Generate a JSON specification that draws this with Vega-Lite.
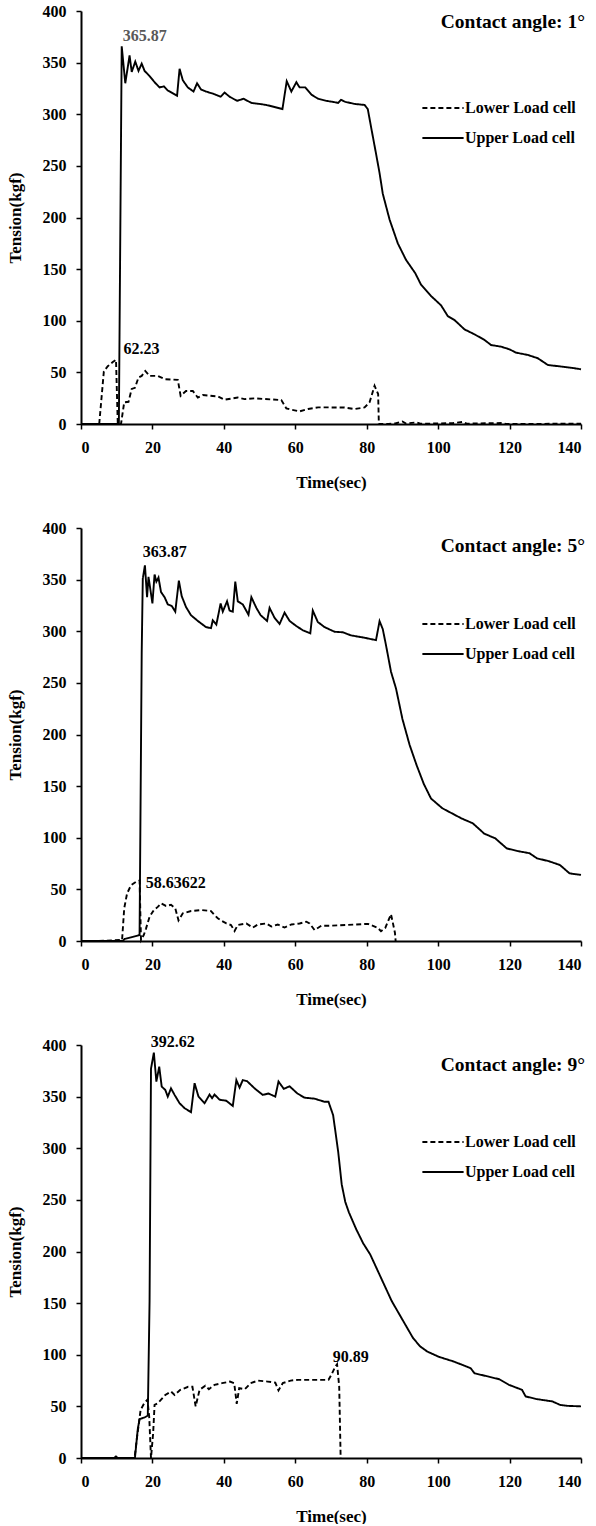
{
  "$schema": "https://vega.github.io/schema/vega-lite/v6.json",
  "background": "white",
  "padding": {"left": 6, "top": 3, "right": 0, "bottom": 0},
  "config": {
    "view": {"stroke": null},
    "font": "Liberation Serif",
    "axis": {"grid": false, "ticks": true, "domainColor": "black", "domainWidth": 2, "tickColor": "black", "tickWidth": 1.5, "tickSize": 5,
      "labelFont": "Liberation Serif", "labelFontSize": 16, "labelFontWeight": "bold", "labelColor": "black", "labelPadding": 10,
      "titleFont": "Liberation Serif", "titleFontSize": 17, "titleFontWeight": "bold", "titleColor": "black"},
    "legend": {"orient": "none", "title": null, "symbolType": "stroke", "symbolSize": 1700, "symbolStrokeWidth": 1.8, "symbolStrokeColor": "black",
      "labelFont": "Liberation Serif", "labelFontSize": 16, "labelFontWeight": "bold", "labelColor": "black", "labelOffset": 0, "rowPadding": -10, "padding": 0, "symbolOffset": 0}
  },
  "datasets": {
    "a1": [
      {"t":0,"v":0,"s":"Upper Load cell"},{"t":10.6,"v":0,"s":"Upper Load cell"},{"t":11.4,"v":365.87,"s":"Upper Load cell"},{"t":12.4,"v":330,"s":"Upper Load cell"},{"t":13.6,"v":357,"s":"Upper Load cell"},{"t":14.2,"v":341,"s":"Upper Load cell"},{"t":15.2,"v":351,"s":"Upper Load cell"},{"t":16.1,"v":342,"s":"Upper Load cell"},{"t":17.0,"v":349,"s":"Upper Load cell"},{"t":17.8,"v":342,"s":"Upper Load cell"},{"t":19.2,"v":337,"s":"Upper Load cell"},{"t":20.6,"v":331,"s":"Upper Load cell"},{"t":22.0,"v":326,"s":"Upper Load cell"},{"t":23.2,"v":327,"s":"Upper Load cell"},{"t":24.3,"v":323,"s":"Upper Load cell"},{"t":26.9,"v":318,"s":"Upper Load cell"},{"t":27.6,"v":344,"s":"Upper Load cell"},{"t":28.5,"v":333,"s":"Upper Load cell"},{"t":29.9,"v":326,"s":"Upper Load cell"},{"t":31.5,"v":322,"s":"Upper Load cell"},{"t":32.5,"v":330,"s":"Upper Load cell"},{"t":33.6,"v":324,"s":"Upper Load cell"},{"t":35.0,"v":322,"s":"Upper Load cell"},{"t":36.9,"v":320,"s":"Upper Load cell"},{"t":39.1,"v":317,"s":"Upper Load cell"},{"t":40.2,"v":321,"s":"Upper Load cell"},{"t":41.6,"v":317,"s":"Upper Load cell"},{"t":43.7,"v":313,"s":"Upper Load cell"},{"t":45.5,"v":315,"s":"Upper Load cell"},{"t":47.7,"v":311,"s":"Upper Load cell"},{"t":50,"v":310,"s":"Upper Load cell"},{"t":51.9,"v":309,"s":"Upper Load cell"},{"t":54.2,"v":307,"s":"Upper Load cell"},{"t":56.4,"v":305,"s":"Upper Load cell"},{"t":57.6,"v":332,"s":"Upper Load cell"},{"t":58.9,"v":322,"s":"Upper Load cell"},{"t":60.3,"v":331,"s":"Upper Load cell"},{"t":61.2,"v":326,"s":"Upper Load cell"},{"t":62.8,"v":326,"s":"Upper Load cell"},{"t":64.5,"v":319,"s":"Upper Load cell"},{"t":66.4,"v":315,"s":"Upper Load cell"},{"t":68.7,"v":313,"s":"Upper Load cell"},{"t":70.5,"v":312,"s":"Upper Load cell"},{"t":72,"v":311,"s":"Upper Load cell"},{"t":72.8,"v":314,"s":"Upper Load cell"},{"t":74,"v":312,"s":"Upper Load cell"},{"t":76.6,"v":310,"s":"Upper Load cell"},{"t":79.4,"v":309,"s":"Upper Load cell"},{"t":80.3,"v":305,"s":"Upper Load cell"},{"t":81.2,"v":288,"s":"Upper Load cell"},{"t":82.6,"v":262,"s":"Upper Load cell"},{"t":83.6,"v":243,"s":"Upper Load cell"},{"t":84.5,"v":223,"s":"Upper Load cell"},{"t":86.4,"v":198,"s":"Upper Load cell"},{"t":88.7,"v":175,"s":"Upper Load cell"},{"t":91.0,"v":159,"s":"Upper Load cell"},{"t":93.6,"v":146,"s":"Upper Load cell"},{"t":95.2,"v":135,"s":"Upper Load cell"},{"t":98.0,"v":124,"s":"Upper Load cell"},{"t":100.8,"v":115,"s":"Upper Load cell"},{"t":102.7,"v":104.5,"s":"Upper Load cell"},{"t":104.6,"v":100.6,"s":"Upper Load cell"},{"t":107.4,"v":91.6,"s":"Upper Load cell"},{"t":110.2,"v":86.8,"s":"Upper Load cell"},{"t":113.0,"v":81.4,"s":"Upper Load cell"},{"t":114.8,"v":76.5,"s":"Upper Load cell"},{"t":117.6,"v":74.9,"s":"Upper Load cell"},{"t":120,"v":72.3,"s":"Upper Load cell"},{"t":121.8,"v":69.1,"s":"Upper Load cell"},{"t":125.1,"v":66.9,"s":"Upper Load cell"},{"t":127.9,"v":63.7,"s":"Upper Load cell"},{"t":130.7,"v":57.2,"s":"Upper Load cell"},{"t":134.5,"v":55.6,"s":"Upper Load cell"},{"t":138.2,"v":54,"s":"Upper Load cell"},{"t":140,"v":53,"s":"Upper Load cell"},
      {"t":5.1,"v":0,"s":"Lower Load cell"},{"t":6.4,"v":51,"s":"Lower Load cell"},{"t":7.5,"v":56,"s":"Lower Load cell"},{"t":8.9,"v":60,"s":"Lower Load cell"},{"t":9.8,"v":62.23,"s":"Lower Load cell"},{"t":10.3,"v":0,"s":"Lower Load cell"},{"t":11.2,"v":0,"s":"Lower Load cell"},{"t":12.1,"v":21,"s":"Lower Load cell"},{"t":13.3,"v":21.5,"s":"Lower Load cell"},{"t":14.2,"v":34,"s":"Lower Load cell"},{"t":15.1,"v":35,"s":"Lower Load cell"},{"t":16.1,"v":45,"s":"Lower Load cell"},{"t":17,"v":46.6,"s":"Lower Load cell"},{"t":18,"v":51.4,"s":"Lower Load cell"},{"t":19.2,"v":46.6,"s":"Lower Load cell"},{"t":21.5,"v":46.6,"s":"Lower Load cell"},{"t":23.6,"v":43.4,"s":"Lower Load cell"},{"t":27.1,"v":42.8,"s":"Lower Load cell"},{"t":27.9,"v":27.3,"s":"Lower Load cell"},{"t":29.4,"v":32,"s":"Lower Load cell"},{"t":31.3,"v":32,"s":"Lower Load cell"},{"t":32.7,"v":25.7,"s":"Lower Load cell"},{"t":34.1,"v":28,"s":"Lower Load cell"},{"t":38.3,"v":26.7,"s":"Lower Load cell"},{"t":40.2,"v":23.5,"s":"Lower Load cell"},{"t":43.9,"v":25.7,"s":"Lower Load cell"},{"t":45.8,"v":24.1,"s":"Lower Load cell"},{"t":48.6,"v":24.8,"s":"Lower Load cell"},{"t":56.1,"v":23.2,"s":"Lower Load cell"},{"t":57.5,"v":15.1,"s":"Lower Load cell"},{"t":58.9,"v":13.8,"s":"Lower Load cell"},{"t":61.2,"v":12.2,"s":"Lower Load cell"},{"t":63.6,"v":14.5,"s":"Lower Load cell"},{"t":66.4,"v":16.1,"s":"Lower Load cell"},{"t":73.8,"v":16,"s":"Lower Load cell"},{"t":76.6,"v":14.5,"s":"Lower Load cell"},{"t":79.4,"v":16,"s":"Lower Load cell"},{"t":80.8,"v":21,"s":"Lower Load cell"},{"t":82.2,"v":37,"s":"Lower Load cell"},{"t":83.2,"v":29,"s":"Lower Load cell"},{"t":83.4,"v":0,"s":"Lower Load cell"},{"t":86,"v":0,"s":"Lower Load cell"},{"t":88,"v":0.5,"s":"Lower Load cell"},{"t":90,"v":2.5,"s":"Lower Load cell"},{"t":91,"v":0.5,"s":"Lower Load cell"},{"t":94,"v":1.5,"s":"Lower Load cell"},{"t":95,"v":0.3,"s":"Lower Load cell"},{"t":100,"v":0.5,"s":"Lower Load cell"},{"t":104,"v":0.8,"s":"Lower Load cell"},{"t":107,"v":2,"s":"Lower Load cell"},{"t":108,"v":0.3,"s":"Lower Load cell"},{"t":118,"v":1,"s":"Lower Load cell"},{"t":119,"v":0,"s":"Lower Load cell"},{"t":140,"v":0.3,"s":"Lower Load cell"}
    ],
    "a5": [
      {"t":0,"v":0,"s":"Upper Load cell"},{"t":11.7,"v":0,"s":"Upper Load cell"},{"t":12.2,"v":2,"s":"Upper Load cell"},{"t":14,"v":3.5,"s":"Upper Load cell"},{"t":16.4,"v":5.8,"s":"Upper Load cell"},{"t":17.0,"v":280,"s":"Upper Load cell"},{"t":17.3,"v":351,"s":"Upper Load cell"},{"t":17.9,"v":363.87,"s":"Upper Load cell"},{"t":18.5,"v":333,"s":"Upper Load cell"},{"t":18.9,"v":352.6,"s":"Upper Load cell"},{"t":19.4,"v":341,"s":"Upper Load cell"},{"t":20,"v":327,"s":"Upper Load cell"},{"t":20.6,"v":355,"s":"Upper Load cell"},{"t":21.1,"v":348,"s":"Upper Load cell"},{"t":21.7,"v":352,"s":"Upper Load cell"},{"t":22.4,"v":338,"s":"Upper Load cell"},{"t":23.4,"v":333,"s":"Upper Load cell"},{"t":24.3,"v":326,"s":"Upper Load cell"},{"t":25.4,"v":324.5,"s":"Upper Load cell"},{"t":26.4,"v":319,"s":"Upper Load cell"},{"t":27.4,"v":349,"s":"Upper Load cell"},{"t":28.2,"v":334,"s":"Upper Load cell"},{"t":29.4,"v":323.5,"s":"Upper Load cell"},{"t":30.8,"v":315.5,"s":"Upper Load cell"},{"t":32.7,"v":310,"s":"Upper Load cell"},{"t":35.0,"v":304,"s":"Upper Load cell"},{"t":36.4,"v":303,"s":"Upper Load cell"},{"t":36.9,"v":310.6,"s":"Upper Load cell"},{"t":37.9,"v":306.5,"s":"Upper Load cell"},{"t":39.1,"v":327,"s":"Upper Load cell"},{"t":39.7,"v":319,"s":"Upper Load cell"},{"t":40.9,"v":329,"s":"Upper Load cell"},{"t":41.6,"v":320,"s":"Upper Load cell"},{"t":42.5,"v":319,"s":"Upper Load cell"},{"t":43.2,"v":348,"s":"Upper Load cell"},{"t":43.9,"v":329,"s":"Upper Load cell"},{"t":45.3,"v":326,"s":"Upper Load cell"},{"t":46.9,"v":316,"s":"Upper Load cell"},{"t":47.7,"v":333,"s":"Upper Load cell"},{"t":49.1,"v":322.6,"s":"Upper Load cell"},{"t":50.3,"v":315.5,"s":"Upper Load cell"},{"t":52.1,"v":310,"s":"Upper Load cell"},{"t":52.8,"v":322.6,"s":"Upper Load cell"},{"t":54.2,"v":313,"s":"Upper Load cell"},{"t":55.6,"v":307,"s":"Upper Load cell"},{"t":57.0,"v":318,"s":"Upper Load cell"},{"t":58.4,"v":310,"s":"Upper Load cell"},{"t":60.3,"v":305,"s":"Upper Load cell"},{"t":62.1,"v":301,"s":"Upper Load cell"},{"t":64.2,"v":298,"s":"Upper Load cell"},{"t":64.9,"v":320,"s":"Upper Load cell"},{"t":66.3,"v":309,"s":"Upper Load cell"},{"t":68.2,"v":304,"s":"Upper Load cell"},{"t":71.0,"v":299.5,"s":"Upper Load cell"},{"t":73.3,"v":299,"s":"Upper Load cell"},{"t":75.6,"v":296,"s":"Upper Load cell"},{"t":79.4,"v":293.7,"s":"Upper Load cell"},{"t":82.6,"v":291.4,"s":"Upper Load cell"},{"t":83.6,"v":309.8,"s":"Upper Load cell"},{"t":84.5,"v":302,"s":"Upper Load cell"},{"t":85.4,"v":286.5,"s":"Upper Load cell"},{"t":86.8,"v":260.8,"s":"Upper Load cell"},{"t":88.2,"v":244.6,"s":"Upper Load cell"},{"t":90,"v":215,"s":"Upper Load cell"},{"t":92,"v":190,"s":"Upper Load cell"},{"t":94,"v":170,"s":"Upper Load cell"},{"t":96,"v":152,"s":"Upper Load cell"},{"t":98,"v":138,"s":"Upper Load cell"},{"t":101.2,"v":128.5,"s":"Upper Load cell"},{"t":106.5,"v":118.8,"s":"Upper Load cell"},{"t":109.7,"v":114,"s":"Upper Load cell"},{"t":112.9,"v":104,"s":"Upper Load cell"},{"t":116,"v":99.4,"s":"Upper Load cell"},{"t":119.2,"v":89.7,"s":"Upper Load cell"},{"t":122.4,"v":87,"s":"Upper Load cell"},{"t":125.6,"v":85,"s":"Upper Load cell"},{"t":127.7,"v":80,"s":"Upper Load cell"},{"t":130.9,"v":77.4,"s":"Upper Load cell"},{"t":134.1,"v":73.6,"s":"Upper Load cell"},{"t":136.8,"v":65.5,"s":"Upper Load cell"},{"t":140,"v":64,"s":"Upper Load cell"},
      {"t":5,"v":0,"s":"Lower Load cell"},{"t":11.5,"v":1,"s":"Lower Load cell"},{"t":12.1,"v":31.6,"s":"Lower Load cell"},{"t":12.9,"v":46,"s":"Lower Load cell"},{"t":14.0,"v":54,"s":"Lower Load cell"},{"t":15.4,"v":57.4,"s":"Lower Load cell"},{"t":16.4,"v":58.64,"s":"Lower Load cell"},{"t":16.8,"v":1,"s":"Lower Load cell"},{"t":17.6,"v":6,"s":"Lower Load cell"},{"t":18.2,"v":12,"s":"Lower Load cell"},{"t":19.2,"v":23.5,"s":"Lower Load cell"},{"t":20.4,"v":30,"s":"Lower Load cell"},{"t":21.5,"v":33,"s":"Lower Load cell"},{"t":22.4,"v":36.5,"s":"Lower Load cell"},{"t":23.8,"v":34,"s":"Lower Load cell"},{"t":25.2,"v":35,"s":"Lower Load cell"},{"t":26.4,"v":31.6,"s":"Lower Load cell"},{"t":27.3,"v":20,"s":"Lower Load cell"},{"t":28.5,"v":26.8,"s":"Lower Load cell"},{"t":30.8,"v":29,"s":"Lower Load cell"},{"t":33.6,"v":30,"s":"Lower Load cell"},{"t":36.4,"v":29,"s":"Lower Load cell"},{"t":37.4,"v":25,"s":"Lower Load cell"},{"t":38.3,"v":22,"s":"Lower Load cell"},{"t":39.4,"v":19.4,"s":"Lower Load cell"},{"t":40.7,"v":17,"s":"Lower Load cell"},{"t":42,"v":15.5,"s":"Lower Load cell"},{"t":43,"v":9.7,"s":"Lower Load cell"},{"t":43.9,"v":15.5,"s":"Lower Load cell"},{"t":46.3,"v":17,"s":"Lower Load cell"},{"t":48.1,"v":13,"s":"Lower Load cell"},{"t":49.5,"v":16,"s":"Lower Load cell"},{"t":51.9,"v":17,"s":"Lower Load cell"},{"t":53.3,"v":14,"s":"Lower Load cell"},{"t":55.1,"v":16,"s":"Lower Load cell"},{"t":57,"v":13,"s":"Lower Load cell"},{"t":58.9,"v":16,"s":"Lower Load cell"},{"t":61.2,"v":17,"s":"Lower Load cell"},{"t":63.1,"v":18.7,"s":"Lower Load cell"},{"t":64,"v":17,"s":"Lower Load cell"},{"t":65.4,"v":10.6,"s":"Lower Load cell"},{"t":67.3,"v":14.8,"s":"Lower Load cell"},{"t":70.1,"v":14.8,"s":"Lower Load cell"},{"t":80.4,"v":16.6,"s":"Lower Load cell"},{"t":83.1,"v":12.7,"s":"Lower Load cell"},{"t":84,"v":9.5,"s":"Lower Load cell"},{"t":85.2,"v":12.7,"s":"Lower Load cell"},{"t":86.8,"v":26,"s":"Lower Load cell"},{"t":87.9,"v":8,"s":"Lower Load cell"},{"t":88.1,"v":0,"s":"Lower Load cell"}
    ],
    "a9": [
      {"t":0,"v":0,"s":"Upper Load cell"},{"t":9.3,"v":0,"s":"Upper Load cell"},{"t":9.8,"v":1.5,"s":"Upper Load cell"},{"t":10.3,"v":0,"s":"Upper Load cell"},{"t":15.1,"v":0,"s":"Upper Load cell"},{"t":15.9,"v":28,"s":"Upper Load cell"},{"t":16.4,"v":37.7,"s":"Upper Load cell"},{"t":17.8,"v":39.3,"s":"Upper Load cell"},{"t":18.7,"v":41,"s":"Upper Load cell"},{"t":19.2,"v":152,"s":"Upper Load cell"},{"t":19.6,"v":377,"s":"Upper Load cell"},{"t":20.4,"v":392.62,"s":"Upper Load cell"},{"t":21.1,"v":364.6,"s":"Upper Load cell"},{"t":21.9,"v":379,"s":"Upper Load cell"},{"t":22.6,"v":359.7,"s":"Upper Load cell"},{"t":23.6,"v":356.5,"s":"Upper Load cell"},{"t":24.3,"v":350,"s":"Upper Load cell"},{"t":25.2,"v":358,"s":"Upper Load cell"},{"t":26.2,"v":351.7,"s":"Upper Load cell"},{"t":27.6,"v":343.6,"s":"Upper Load cell"},{"t":29,"v":338.8,"s":"Upper Load cell"},{"t":30.8,"v":335,"s":"Upper Load cell"},{"t":31.8,"v":363,"s":"Upper Load cell"},{"t":32.9,"v":350,"s":"Upper Load cell"},{"t":34.6,"v":343.6,"s":"Upper Load cell"},{"t":36,"v":352,"s":"Upper Load cell"},{"t":36.7,"v":348.5,"s":"Upper Load cell"},{"t":37.4,"v":352,"s":"Upper Load cell"},{"t":38.8,"v":347,"s":"Upper Load cell"},{"t":40.7,"v":346,"s":"Upper Load cell"},{"t":42.5,"v":341,"s":"Upper Load cell"},{"t":43.5,"v":366,"s":"Upper Load cell"},{"t":44.4,"v":358.8,"s":"Upper Load cell"},{"t":45.3,"v":366,"s":"Upper Load cell"},{"t":46.5,"v":365,"s":"Upper Load cell"},{"t":48.6,"v":358,"s":"Upper Load cell"},{"t":50.9,"v":351.7,"s":"Upper Load cell"},{"t":52.5,"v":353,"s":"Upper Load cell"},{"t":54.4,"v":350,"s":"Upper Load cell"},{"t":55.3,"v":364.6,"s":"Upper Load cell"},{"t":56.8,"v":357.5,"s":"Upper Load cell"},{"t":58.4,"v":360,"s":"Upper Load cell"},{"t":60.6,"v":353,"s":"Upper Load cell"},{"t":62.6,"v":349,"s":"Upper Load cell"},{"t":65.4,"v":348,"s":"Upper Load cell"},{"t":68.2,"v":345,"s":"Upper Load cell"},{"t":69.3,"v":345,"s":"Upper Load cell"},{"t":70.6,"v":332,"s":"Upper Load cell"},{"t":72,"v":297,"s":"Upper Load cell"},{"t":73,"v":265,"s":"Upper Load cell"},{"t":74,"v":248,"s":"Upper Load cell"},{"t":75,"v":238,"s":"Upper Load cell"},{"t":77,"v":222,"s":"Upper Load cell"},{"t":79,"v":208,"s":"Upper Load cell"},{"t":81,"v":197,"s":"Upper Load cell"},{"t":83,"v":182,"s":"Upper Load cell"},{"t":85,"v":167,"s":"Upper Load cell"},{"t":87,"v":152,"s":"Upper Load cell"},{"t":89,"v":140,"s":"Upper Load cell"},{"t":91,"v":128,"s":"Upper Load cell"},{"t":93,"v":116,"s":"Upper Load cell"},{"t":95,"v":108,"s":"Upper Load cell"},{"t":97,"v":103,"s":"Upper Load cell"},{"t":100.2,"v":98,"s":"Upper Load cell"},{"t":104.4,"v":93.4,"s":"Upper Load cell"},{"t":109.1,"v":87,"s":"Upper Load cell"},{"t":110.2,"v":82,"s":"Upper Load cell"},{"t":113.9,"v":79,"s":"Upper Load cell"},{"t":117.1,"v":76.3,"s":"Upper Load cell"},{"t":119.8,"v":70.9,"s":"Upper Load cell"},{"t":123.5,"v":66,"s":"Upper Load cell"},{"t":124.5,"v":59.6,"s":"Upper Load cell"},{"t":127.7,"v":57,"s":"Upper Load cell"},{"t":132,"v":54.8,"s":"Upper Load cell"},{"t":134.1,"v":51.5,"s":"Upper Load cell"},{"t":136.2,"v":50.5,"s":"Upper Load cell"},{"t":140,"v":50,"s":"Upper Load cell"},
      {"t":0,"v":0,"s":"Lower Load cell"},{"t":15,"v":0,"s":"Lower Load cell"},{"t":15.6,"v":17.7,"s":"Lower Load cell"},{"t":16.7,"v":46.7,"s":"Lower Load cell"},{"t":17.7,"v":53,"s":"Lower Load cell"},{"t":18.6,"v":56.5,"s":"Lower Load cell"},{"t":19.1,"v":40,"s":"Lower Load cell"},{"t":19.6,"v":0,"s":"Lower Load cell"},{"t":20.2,"v":24,"s":"Lower Load cell"},{"t":20.6,"v":51.5,"s":"Lower Load cell"},{"t":21.5,"v":53,"s":"Lower Load cell"},{"t":22.3,"v":56,"s":"Lower Load cell"},{"t":23.6,"v":61,"s":"Lower Load cell"},{"t":25.2,"v":64.4,"s":"Lower Load cell"},{"t":26.2,"v":61,"s":"Lower Load cell"},{"t":27.8,"v":66,"s":"Lower Load cell"},{"t":30,"v":69,"s":"Lower Load cell"},{"t":31.2,"v":69,"s":"Lower Load cell"},{"t":32.1,"v":50,"s":"Lower Load cell"},{"t":33.2,"v":66,"s":"Lower Load cell"},{"t":34.8,"v":70,"s":"Lower Load cell"},{"t":35.8,"v":66.7,"s":"Lower Load cell"},{"t":37.4,"v":70.9,"s":"Lower Load cell"},{"t":39.5,"v":72.5,"s":"Lower Load cell"},{"t":41.7,"v":74,"s":"Lower Load cell"},{"t":42.9,"v":72.5,"s":"Lower Load cell"},{"t":43.6,"v":52.5,"s":"Lower Load cell"},{"t":44.3,"v":67.6,"s":"Lower Load cell"},{"t":45.9,"v":66.7,"s":"Lower Load cell"},{"t":47.5,"v":72.5,"s":"Lower Load cell"},{"t":49.6,"v":75,"s":"Lower Load cell"},{"t":52.3,"v":74,"s":"Lower Load cell"},{"t":54.4,"v":73,"s":"Lower Load cell"},{"t":55.3,"v":65.4,"s":"Lower Load cell"},{"t":56.5,"v":72.5,"s":"Lower Load cell"},{"t":58.7,"v":75,"s":"Lower Load cell"},{"t":60.8,"v":75.7,"s":"Lower Load cell"},{"t":69.3,"v":75.7,"s":"Lower Load cell"},{"t":70.1,"v":80.5,"s":"Lower Load cell"},{"t":71.2,"v":88.6,"s":"Lower Load cell"},{"t":71.7,"v":90.89,"s":"Lower Load cell"},{"t":72.3,"v":69,"s":"Lower Load cell"},{"t":72.7,"v":0,"s":"Lower Load cell"}
    ]
  },
  "vconcat": [
    {
      "width": 500, "height": 413,
      "layer": [
        {"data": {"name": "a1"}, "mark": {"type": "line", "color": "black", "strokeWidth": 1.9},
         "encoding": {
           "x": {"field": "t", "type": "quantitative", "scale": {"domain": [0, 140], "nice": false}, "title": "Time(sec)", "axis": {"values": [0,10,20,30,40,50,60,70,80,90,100,110,120,130,140], "labelExpr": "datum.value % 20 === 0 ? datum.label : ''", "titlePadding": 19}},
           "y": {"field": "v", "type": "quantitative", "scale": {"domain": [0, 400], "nice": false}, "title": "Tension(kgf)", "axis": {"values": [0,25,50,75,100,125,150,175,200,225,250,275,300,325,350,375,400], "labelExpr": "datum.value % 50 === 0 ? datum.label : ''", "titlePadding": 18}},
           "strokeDash": {"field": "s", "type": "nominal", "scale": {"domain": ["Lower Load cell", "Upper Load cell"], "range": [[5, 3], [1, 0]]}, "legend": {"legendX": 340, "legendY": 75}}
         }},
        {"data": {"values": [{"t": 11.7, "v": 376, "label": "365.87"}]}, "mark": {"type": "text", "align": "left", "baseline": "middle", "fontSize": 16, "fontWeight": "bold", "color": "#595959"},
         "encoding": {"x": {"field": "t", "type": "quantitative"}, "y": {"field": "v", "type": "quantitative"}, "text": {"field": "label"}}},
        {"data": {"values": [{"t": 11.9, "v": 72.8, "label": "62.23"}]}, "mark": {"type": "text", "align": "left", "baseline": "middle", "fontSize": 16, "fontWeight": "bold", "color": "black"},
         "encoding": {"x": {"field": "t", "type": "quantitative"}, "y": {"field": "v", "type": "quantitative"}, "text": {"field": "label"}}},
        {"data": {"values": [{"t": 140, "v": 389.5, "label": "Contact angle: 1°"}]}, "mark": {"type": "text", "align": "right", "baseline": "middle", "dx": 4, "fontSize": 19.5, "fontWeight": "bold", "color": "black"},
         "encoding": {"x": {"field": "t", "type": "quantitative"}, "y": {"field": "v", "type": "quantitative"}, "text": {"field": "label"}}}
      ]
    },
    {
      "width": 500, "height": 413,
      "layer": [
        {"data": {"name": "a5"}, "mark": {"type": "line", "color": "black", "strokeWidth": 1.9},
         "encoding": {
           "x": {"field": "t", "type": "quantitative", "scale": {"domain": [0, 140], "nice": false}, "title": "Time(sec)", "axis": {"values": [0,10,20,30,40,50,60,70,80,90,100,110,120,130,140], "labelExpr": "datum.value % 20 === 0 ? datum.label : ''", "titlePadding": 19}},
           "y": {"field": "v", "type": "quantitative", "scale": {"domain": [0, 400], "nice": false}, "title": "Tension(kgf)", "axis": {"values": [0,25,50,75,100,125,150,175,200,225,250,275,300,325,350,375,400], "labelExpr": "datum.value % 50 === 0 ? datum.label : ''", "titlePadding": 18}},
           "strokeDash": {"field": "s", "type": "nominal", "scale": {"domain": ["Lower Load cell", "Upper Load cell"], "range": [[5, 3], [1, 0]]}, "legend": {"legendX": 340, "legendY": 74}}
         }},
        {"data": {"values": [{"t": 17.3, "v": 377, "label": "363.87"}, {"t": 18.1, "v": 56, "label": "58.63622"}]}, "mark": {"type": "text", "align": "left", "baseline": "middle", "fontSize": 16, "fontWeight": "bold", "color": "black"},
         "encoding": {"x": {"field": "t", "type": "quantitative"}, "y": {"field": "v", "type": "quantitative"}, "text": {"field": "label"}}},
        {"data": {"values": [{"t": 140, "v": 383, "label": "Contact angle: 5°"}]}, "mark": {"type": "text", "align": "right", "baseline": "middle", "dx": 4, "fontSize": 19.5, "fontWeight": "bold", "color": "black"},
         "encoding": {"x": {"field": "t", "type": "quantitative"}, "y": {"field": "v", "type": "quantitative"}, "text": {"field": "label"}}}
      ]
    },
    {
      "width": 500, "height": 413,
      "layer": [
        {"data": {"name": "a9"}, "mark": {"type": "line", "color": "black", "strokeWidth": 1.9},
         "encoding": {
           "x": {"field": "t", "type": "quantitative", "scale": {"domain": [0, 140], "nice": false}, "title": "Time(sec)", "axis": {"values": [0,10,20,30,40,50,60,70,80,90,100,110,120,130,140], "labelExpr": "datum.value % 20 === 0 ? datum.label : ''", "titlePadding": 19}},
           "y": {"field": "v", "type": "quantitative", "scale": {"domain": [0, 400], "nice": false}, "title": "Tension(kgf)", "axis": {"values": [0,25,50,75,100,125,150,175,200,225,250,275,300,325,350,375,400], "labelExpr": "datum.value % 50 === 0 ? datum.label : ''", "titlePadding": 18}},
           "strokeDash": {"field": "s", "type": "nominal", "scale": {"domain": ["Lower Load cell", "Upper Load cell"], "range": [[5, 3], [1, 0]]}, "legend": {"legendX": 340, "legendY": 75}}
         }},
        {"data": {"values": [{"t": 19.5, "v": 403, "label": "392.62"}, {"t": 70.5, "v": 97.6, "label": "90.89"}]}, "mark": {"type": "text", "align": "left", "baseline": "middle", "fontSize": 16, "fontWeight": "bold", "color": "black"},
         "encoding": {"x": {"field": "t", "type": "quantitative"}, "y": {"field": "v", "type": "quantitative"}, "text": {"field": "label"}}},
        {"data": {"values": [{"t": 140, "v": 381, "label": "Contact angle: 9°"}]}, "mark": {"type": "text", "align": "right", "baseline": "middle", "dx": 4, "fontSize": 19.5, "fontWeight": "bold", "color": "black"},
         "encoding": {"x": {"field": "t", "type": "quantitative"}, "y": {"field": "v", "type": "quantitative"}, "text": {"field": "label"}}}
      ]
    }
  ],
  "spacing": 104,
  "bounds": "flush",
  "resolve": {"scale": {"strokeDash": "independent", "x": "independent", "y": "independent"}, "legend": {"strokeDash": "independent"}}
}
